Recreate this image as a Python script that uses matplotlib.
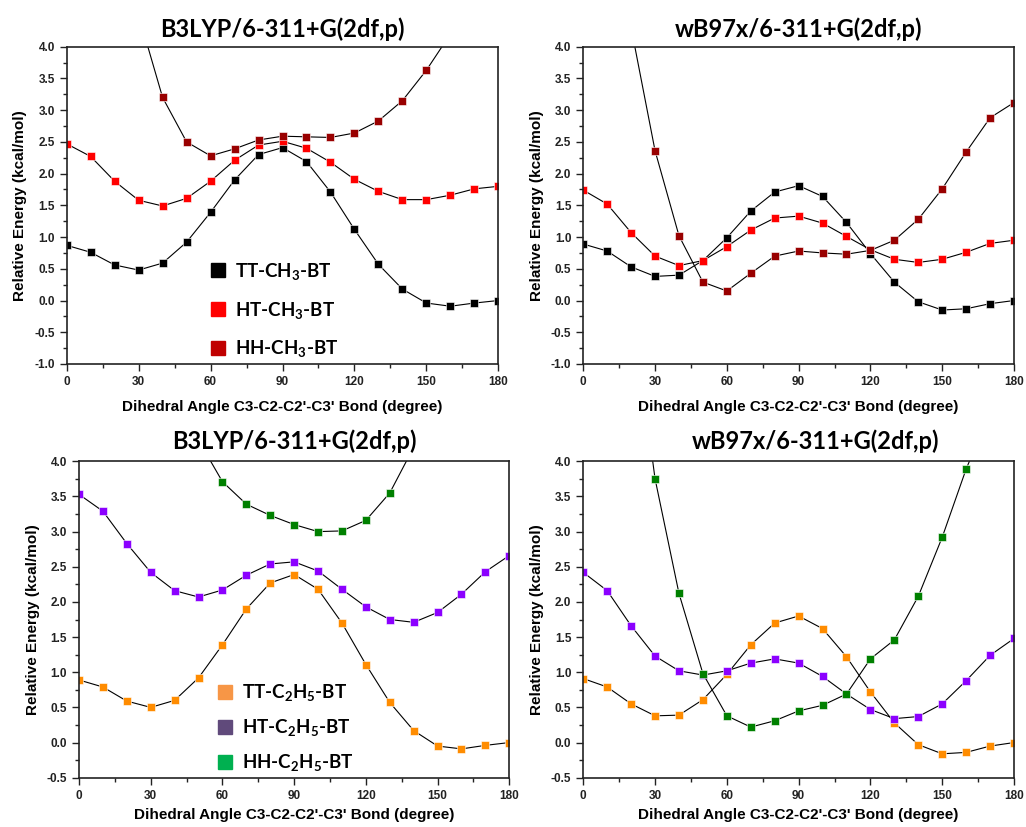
import matplotlib
matplotlib.use("Agg")
import matplotlib.pyplot as plt
from matplotlib.lines import Line2D
from matplotlib.ticker import MultipleLocator

plt.rcParams['font.family'] = ['Liberation Sans', 'DejaVu Sans']
plt.rcParams['mathtext.fontset'] = 'custom'
plt.rcParams['mathtext.rm'] = 'Lato:bold'
plt.rcParams['mathtext.default'] = 'rm'

angle = [0, 10, 20, 30, 40, 50, 60, 70, 80, 90, 100, 110, 120, 130, 140, 150, 160, 170, 180]

# B3LYP, CH3
b3_tt_ch3 = [0.87, 0.76, 0.56, 0.48, 0.59, 0.92, 1.39, 1.90, 2.30, 2.41, 2.19, 1.71, 1.12, 0.57, 0.18, -0.04, -0.09, -0.04, 0.00]
b3_ht_ch3 = [2.47, 2.27, 1.88, 1.58, 1.49, 1.61, 1.88, 2.21, 2.45, 2.51, 2.40, 2.18, 1.91, 1.72, 1.59, 1.59, 1.66, 1.76, 1.80]
b3_hh_ch3 = [8.5, 7.3, 5.9, 4.5, 3.20, 2.50, 2.28, 2.39, 2.53, 2.59, 2.58, 2.57, 2.64, 2.83, 3.15, 3.63, 4.2, 4.8, 5.1]

# wB97x, CH3
wb_tt_ch3 = [0.89, 0.78, 0.53, 0.38, 0.40, 0.63, 0.99, 1.41, 1.71, 1.81, 1.64, 1.23, 0.74, 0.29, -0.02, -0.15, -0.13, -0.05, 0.00]
wb_ht_ch3 = [1.74, 1.52, 1.07, 0.70, 0.55, 0.63, 0.85, 1.11, 1.30, 1.33, 1.22, 1.01, 0.80, 0.65, 0.60, 0.65, 0.76, 0.90, 0.95]
wb_hh_ch3 = [7.5, 6.0, 4.3, 2.36, 1.02, 0.29, 0.15, 0.43, 0.70, 0.78, 0.75, 0.73, 0.79, 0.95, 1.28, 1.76, 2.34, 2.88, 3.12]

# B3LYP, C2H5
b3_tt_c2h5 = [0.89, 0.79, 0.59, 0.50, 0.60, 0.92, 1.39, 1.90, 2.27, 2.39, 2.18, 1.70, 1.11, 0.57, 0.17, -0.05, -0.09, -0.04, 0.00]
b3_ht_c2h5 = [3.53, 3.29, 2.83, 2.42, 2.16, 2.07, 2.17, 2.38, 2.54, 2.57, 2.44, 2.18, 1.93, 1.75, 1.71, 1.85, 2.11, 2.43, 2.66]
b3_hh_c2h5 = [7.6, 7.0, 6.4, 5.7, 5.0, 4.3, 3.71, 3.39, 3.23, 3.10, 3.00, 3.01, 3.16, 3.55, 4.2, 5.0, 5.8, 6.5, 7.1]

# wB97x, C2H5
wb_tt_c2h5 = [0.91, 0.79, 0.55, 0.38, 0.39, 0.61, 0.97, 1.39, 1.70, 1.80, 1.62, 1.22, 0.72, 0.28, -0.03, -0.16, -0.14, -0.05, 0.00]
wb_ht_c2h5 = [2.42, 2.16, 1.66, 1.23, 1.02, 0.96, 1.02, 1.13, 1.19, 1.13, 0.94, 0.69, 0.47, 0.34, 0.37, 0.55, 0.88, 1.24, 1.48]
wb_hh_c2h5 = [9.5, 8.0, 6.3, 3.75, 2.12, 0.98, 0.38, 0.22, 0.31, 0.45, 0.53, 0.69, 1.19, 1.46, 2.08, 2.92, 3.89, 4.7, 5.5]

labels_ch3 = ['TT-CH$_3$-BT', 'HT-CH$_3$-BT', 'HH-CH$_3$-BT']
labels_c2h5 = ['TT-C$_2$H$_5$-BT', 'HT-C$_2$H$_5$-BT', 'HH-C$_2$H$_5$-BT']
colors_ch3 = ['#000000', '#ff0000', '#990000']
legend_colors_ch3 = ['#000000', '#ff0000', '#c00000']
colors_c2h5 = ['#ff8c00', '#8b00ff', '#008000']
legend_colors_c2h5 = ['#f79646', '#604a7b', '#00b050']

title_b3 = 'B3LYP/6-311+G(2df,p)'
title_wb = 'wB97x/6-311+G(2df,p)'
xlabel = "Dihedral Angle C3-C2-C2'-C3' Bond (degree)"
ylabel = 'Relative Energy (kcal/mol)'

fig = plt.figure(figsize=(10.26, 8.27), dpi=100)

panels = [
    ([0.065, 0.5599, 0.4207, 0.3836], title_b3, [b3_tt_ch3, b3_ht_ch3, b3_hh_ch3], colors_ch3, (-1.0, 4.0)),
    ([0.5685, 0.5599, 0.4198, 0.3836], title_wb, [wb_tt_ch3, wb_ht_ch3, wb_hh_ch3], colors_ch3, (-1.0, 4.0)),
    ([0.077, 0.0596, 0.4194, 0.3826], title_b3, [b3_tt_c2h5, b3_ht_c2h5, b3_hh_c2h5], colors_c2h5, (-0.5, 4.0)),
    ([0.5685, 0.0596, 0.4198, 0.3826], title_wb, [wb_tt_c2h5, wb_ht_c2h5, wb_hh_c2h5], colors_c2h5, (-0.5, 4.0)),
]

axes = []
for i, (rect, title, series, colors, ylim) in enumerate(panels):
    ax = fig.add_axes(rect)
    for vals, c in zip(series, colors):
        ax.plot(angle, vals, color='black', linewidth=0.8, marker='s', markersize=5.5,
                markerfacecolor=c, markeredgecolor='white', markeredgewidth=0.4)
    ax.set_xlim(0, 180)
    ax.set_ylim(*ylim)
    ax.xaxis.set_major_locator(MultipleLocator(30))
    ax.xaxis.set_minor_locator(MultipleLocator(15))
    ax.yaxis.set_major_locator(MultipleLocator(0.5))
    ax.yaxis.set_minor_locator(MultipleLocator(0.25))
    ax.yaxis.set_major_formatter(matplotlib.ticker.FormatStrFormatter('%.1f'))
    ax.tick_params(which='both', direction='out', top=False, right=False,
                   labelsize=8.5, colors='#222222')
    ax.tick_params(which='major', length=5, width=1)
    ax.tick_params(which='minor', length=3, width=1)
    for lab in ax.get_xticklabels() + ax.get_yticklabels():
        lab.set_fontweight('bold')
    for sp in ax.spines.values():
        sp.set_linewidth(1.2)
        sp.set_color('#222222')
    ax.set_xlabel(xlabel, fontsize=11, fontweight='bold', labelpad=9 if i < 2 else 5)
    ax.set_ylabel(ylabel, fontsize=11, fontweight='bold', labelpad=5)
    ax.set_title(title, fontsize=17, fontweight='bold', family='Lato', pad=7 if i < 2 else 9)
    axes.append(ax)

axes[3].title.set_x(0.54)

def add_legend(ax, labels, colors, anchor, spacing):
    handles = [Line2D([], [], linestyle='none', marker='s', markersize=10,
                      markerfacecolor=c, markeredgecolor=c) for c in colors]
    ax.legend(handles, labels, loc='lower left', bbox_to_anchor=anchor, frameon=False,
              prop={'family': 'Lato', 'weight': 'bold', 'size': 13.5},
              handlelength=0.8, handletextpad=0.5, labelspacing=spacing, borderpad=0)

add_legend(axes[0], labels_ch3, legend_colors_ch3, (0.311, -0.015), 0.95)
add_legend(axes[2], labels_c2h5, legend_colors_c2h5, (0.30, -0.016), 0.75)

fig.savefig('out.png', dpi=100)
